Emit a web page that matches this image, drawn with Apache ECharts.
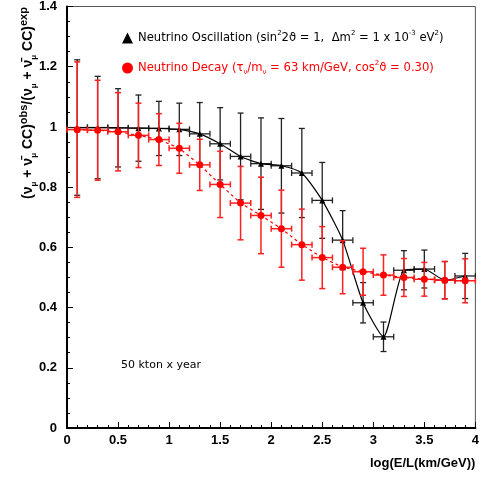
<!DOCTYPE html>
<html>
<head>
<meta charset="utf-8">
<script src="https://cdn.jsdelivr.net/npm/echarts@6/dist/echarts.min.js"></script>
<style>
  html, body { margin: 0; background: #fff; }
  #chart { width: 482px; height: 477px; }
</style>
</head>
<body>
<div id="chart"></div>
<script>
// bin centres in log(E/L) and bin half width
const logEL = [0.1, 0.3, 0.5, 0.7, 0.9, 1.1, 1.3, 1.5, 1.7, 1.9, 2.1, 2.3, 2.5, 2.7, 2.9, 3.1, 3.3, 3.5, 3.7, 3.9]
const binHalf = [0.1, 0.1, 0.1, 0.1, 0.1, 0.1, 0.1, 0.1, 0.1, 0.1, 0.1, 0.1, 0.1, 0.1, 0.1, 0.1, 0.1, 0.1, 0.1, 0.1]

// oscillation
const oscRatio = [0.998, 0.998, 0.997, 0.996, 0.995, 0.992, 0.977, 0.944, 0.902, 0.878, 0.871, 0.847, 0.756, 0.624, 0.416, 0.303, 0.524, 0.528, 0.491, 0.505]
const oscErr = [0.225, 0.17, 0.13, 0.11, 0.09, 0.087, 0.104, 0.12, 0.144, 0.152, 0.157, 0.148, 0.126, 0.098, 0.067, 0.049, 0.065, 0.063, 0.062, 0.075]

// decay
const decayRatio = [0.991, 0.989, 0.984, 0.972, 0.958, 0.929, 0.874, 0.809, 0.747, 0.706, 0.662, 0.609, 0.566, 0.534, 0.519, 0.508, 0.500, 0.494, 0.491, 0.489]
const decayErr = [0.225, 0.166, 0.13, 0.107, 0.086, 0.083, 0.085, 0.11, 0.122, 0.127, 0.128, 0.118, 0.103, 0.088, 0.078, 0.067, 0.063, 0.056, 0.062, 0.073]

const chart = echarts.init(document.getElementById('chart'))

// error bars with caps on both directions
function errorBars(color, width) {
  return function (params, api) {
    const x = api.value(0)
    const y = api.value(1)
    const ex = api.value(2)
    const ey = api.value(3)
    const l = api.coord([x - ex, y])
    const r = api.coord([x + ex, y])
    const t = api.coord([x, y + ey])
    const b = api.coord([x, y - ey])
    const cap = 3
    const style = { stroke: color, lineWidth: width }
    const seg = (x1, y1, x2, y2) => ({ type: 'line', shape: { x1, y1, x2, y2 }, style })
    return {
      type: 'group',
      children: [
        seg(l[0], l[1], r[0], r[1]),
        seg(t[0], t[1], b[0], b[1]),
        seg(l[0], l[1] - cap, l[0], l[1] + cap),
        seg(r[0], r[1] - cap, r[0], r[1] + cap),
        seg(t[0] - cap, t[1], t[0] + cap, t[1]),
        seg(b[0] - cap, b[1], b[0] + cap, b[1]),
      ],
    }
  }
}

const oscBars = logEL.map((x, i) => [x, oscRatio[i], binHalf[i], oscErr[i]])
const decayBars = logEL.map((x, i) => [x, decayRatio[i], binHalf[i], decayErr[i]])

const legendRich = {
  sup: { fontSize: 7, lineHeight: 7, verticalAlign: 'top' },
  sub: { fontSize: 7, lineHeight: 7, verticalAlign: 'bottom' },
}

const option = {
  animation: false,
  grid: {
    left: 67,
    right: 5,
    top: 6,
    bottom: 49,
    show: true,
    borderColor: '#555',
    borderWidth: 1,
  },
  legend: {
    orient: 'vertical',
    left: 117,
    top: 25,
    itemGap: 14,
    itemWidth: 11,
    itemHeight: 11,
    data: [
      { name: 'osc', icon: 'triangle', textStyle: { color: '#000' } },
      { name: 'decay', icon: 'circle', textStyle: { color: '#ff0000' } },
    ],
    textStyle: {
      fontFamily: 'DejaVu Sans',
      fontSize: 11.6,
      lineHeight: 16,
      rich: legendRich,
    },
    formatter: function (name) {
      if (name === 'osc') {
        return 'Neutrino Oscillation (sin{sup|2}2ϑ = 1,  Δm{sup|2} = 1 x 10{sup|-3} eV{sup|2})'
      }
      return 'Neutrino Decay (τ{sub|ν}/m{sub|ν} = 63 km/GeV, cos{sup|2}ϑ = 0.30)'
    },
  },
  xAxis: {
    type: 'value',
    min: 0,
    max: 4,
    interval: 0.5,
    name: 'log(E/L(km/GeV))',
    nameLocation: 'end',
    nameGap: 0,
    nameTextStyle: {
      fontFamily: 'Liberation Sans',
      fontWeight: 'bold',
      fontSize: 13,
      color: '#000',
      align: 'right',
      verticalAlign: 'top',
      padding: [29, 0, 0, 0],
    },
    axisLine: { lineStyle: { color: '#000', width: 2 } },
    axisTick: { inside: true, length: 6, lineStyle: { color: '#000' } },
    minorTick: { show: true, splitNumber: 5, length: 3, lineStyle: { color: '#000' } },
    axisLabel: {
      fontFamily: 'Liberation Sans',
      fontWeight: 'bold',
      fontSize: 13,
      color: '#000',
      margin: 6,
    },
    splitLine: { show: false },
  },
  yAxis: {
    type: 'value',
    min: 0,
    max: 1.4,
    interval: 0.2,
    axisLine: { show: true, lineStyle: { color: '#000', width: 2 } },
    axisTick: { show: true, inside: true, length: 6, lineStyle: { color: '#000' } },
    minorTick: { show: true, splitNumber: 4, length: 3, lineStyle: { color: '#000' } },
    axisLabel: {
      fontFamily: 'Liberation Sans',
      fontWeight: 'bold',
      fontSize: 13,
      color: '#000',
      margin: 10,
    },
    splitLine: { show: false },
  },
  graphic: [
    {
      type: 'text',
      x: 28,
      y: 103,
      rotation: Math.PI / 2,
      style: {
        text: '(ν{sub|μ} + ν̄{sub|μ} CC){sup|obs}/(ν{sub|μ} + ν̄{sub|μ} CC){sup|exp}',
        fontFamily: 'Liberation Sans',
        fontWeight: 'bold',
        fontSize: 14,
        lineHeight: 20,
        fill: '#000',
        align: 'center',
        verticalAlign: 'middle',
        rich: {
          sup: { fontSize: 11, lineHeight: 11, verticalAlign: 'top', fontWeight: 'bold', fontFamily: 'Liberation Sans' },
          sub: { fontSize: 8, lineHeight: 8, verticalAlign: 'bottom', fontWeight: 'bold', fontFamily: 'Liberation Sans' },
        },
      },
    },
    {
      type: 'text',
      x: 121,
      y: 365,
      style: {
        text: '50 kton x year',
        fontFamily: 'DejaVu Sans',
        fontSize: 11,
        fill: '#000',
        verticalAlign: 'middle',
      },
    },
  ],
  series: [
    {
      type: 'custom',
      name: 'oscErr',
      renderItem: errorBars('#222', 1.3),
      data: oscBars,
      z: 2,
    },
    {
      type: 'line',
      name: 'osc',
      data: logEL.map((x, i) => [x, oscRatio[i]]),
      smooth: 0.2,
      symbol: 'triangle',
      symbolSize: 6,
      itemStyle: { color: '#000' },
      lineStyle: { color: '#000', width: 1.2 },
      z: 3,
    },
    {
      type: 'custom',
      name: 'decayErr',
      renderItem: errorBars('#ff2020', 1.5),
      data: decayBars,
      z: 4,
    },
    {
      type: 'line',
      name: 'decay',
      data: logEL.map((x, i) => [x, decayRatio[i]]),
      symbol: 'circle',
      symbolSize: 7,
      itemStyle: { color: '#ff0000' },
      lineStyle: { color: '#ff0000', width: 1.2, type: [3, 3] },
      z: 5,
    },
  ],
}

chart.setOption(option)
</script>
</body>
</html>
